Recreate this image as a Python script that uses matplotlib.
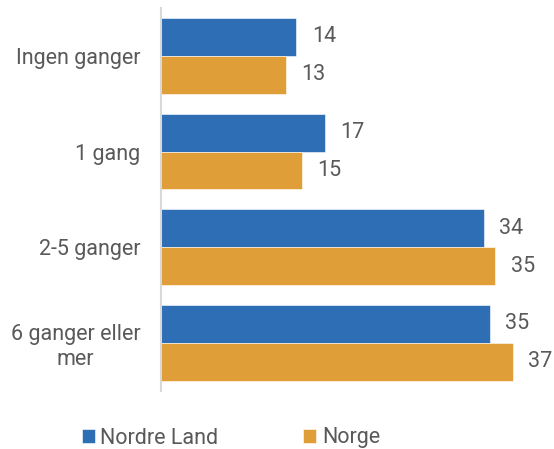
import matplotlib.pyplot as plt
import numpy as np

plt.rcParams['font.family'] = ['Roboto', 'DejaVu Sans']

categories = ['Ingen ganger', '1 gang', '2-5 ganger', '6 ganger eller\nmer']
nordre_land = [14.3, 17.3, 34.1, 34.7]
norge = [13.2, 14.9, 35.3, 37.1]
series_names = ['Nordre Land', 'Norge']

blue = '#2E6EB4'
orange = '#DF9E37'
text_col = '#595959'

fig = plt.figure(figsize=(5.54, 4.49), dpi=100)
ax = fig.add_axes([161 / 554, 58.3 / 449, 379 / 554, 382.7 / 449])

y = np.arange(len(categories))
h = 0.397
b1 = ax.barh(y - h / 2, nordre_land, height=h, color=blue, edgecolor='white', linewidth=0.4)
b2 = ax.barh(y + h / 2, norge, height=h, color=orange, edgecolor='white', linewidth=0.4)

for bars, vals in ((b1, nordre_land), (b2, norge)):
    ax.bar_label(bars, labels=[f'{v:.0f}' for v in vals], padding=11,
                 fontsize=15.5, color=text_col)

ax.set_xlim(0, 40)
ax.set_ylim(3.5, -0.5)
ax.set_yticks(y)
ax.set_yticklabels(categories, fontsize=15.5, color=text_col)
for lab in ax.get_yticklabels():
    lab.set_multialignment('center')
ax.tick_params(axis='y', length=0, pad=15)
ax.set_xticks([])
for s in ('top', 'right', 'bottom'):
    ax.spines[s].set_visible(False)
ax.spines['left'].set_color('#D9D9D9')
ax.spines['left'].set_linewidth(1.5)

fig.legend([b1, b2], series_names, ncol=2, frameon=False, loc='center left',
           bbox_to_anchor=(82 / 554, 11 / 449), fontsize=15.5, labelcolor=text_col,
           handlelength=0.6, handleheight=0.6, handletextpad=0.25,
           columnspacing=3.95, borderpad=0, borderaxespad=0)

fig.savefig('out.png', dpi=100)
